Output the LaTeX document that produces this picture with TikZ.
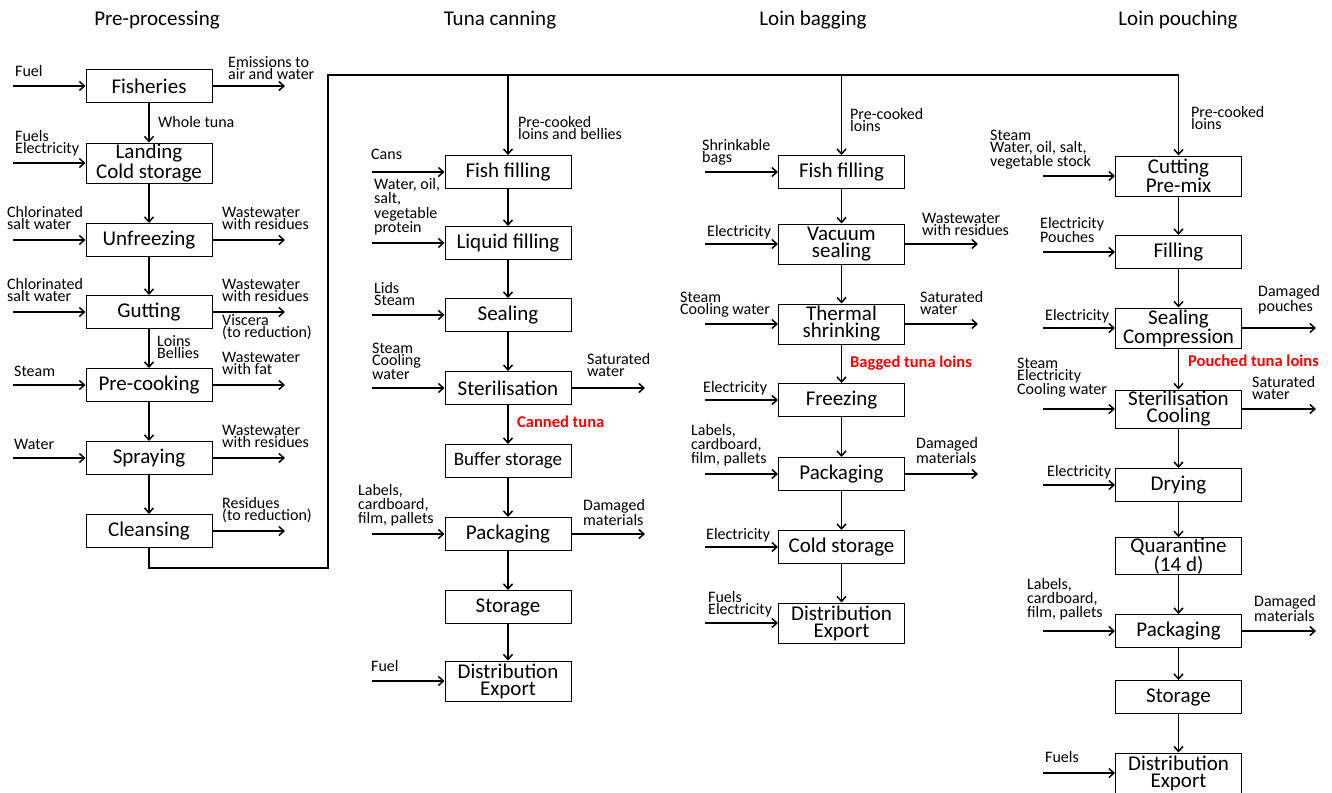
\documentclass[tikz,border=0pt]{standalone}
\usepackage{fontspec}
\setmainfont{Carlito}
\usetikzlibrary{arrows.meta}

\tikzset{
  proc/.style={draw, line width=1pt, minimum width=126pt, minimum height=33pt,
    inner sep=0pt, align=center, font=\fontsize{21}{17}\selectfont},
  proctwo/.style={proc, minimum height=40pt},
  lbl/.style={anchor=south west, inner sep=0pt, align=left, text depth=0pt,
    font=\fontsize{16}{12}\selectfont},
  prod/.style={lbl, text=red, font=\fontsize{16.5}{12}\selectfont\bfseries},
  ttl/.style={inner sep=0pt, anchor=base, font=\fontsize{21}{20}\selectfont},
  flow/.style={line width=1.5pt, -{Straight Barb[length=5pt,width=9pt]}},
}

\begin{document}
\begin{tikzpicture}[x=1pt, y=-1pt]

    \useasboundingbox (0,0) rectangle (1332,792);

    % Column titles
    \node[ttl] (t1) at (157,26) {Pre-processing};
    \node[ttl] (t2) at (500,26) {Tuna canning};
    \node[ttl] (t3) at (813,26) {Loin bagging};
    \node[ttl] (t4) at (1178,26) {Loin pouching};

    % Pre-processing
    \node[proc] (fisheries) at (149,86) {Fisheries};
    \node[proctwo] (landing) at (149,163) {Landing\\Cold storage};
    \node[proc] (unfreezing) at (149,240) {Unfreezing};
    \node[proc] (gutting) at (149,312) {Gutting};
    \node[proc] (precooking) at (149,385) {Pre-cooking};
    \node[proc] (spraying) at (149,458) {Spraying};
    \node[proc] (cleansing) at (149,531) {Cleansing};

    \draw[flow] (fisheries) -- (landing);
    \draw[flow] (landing) -- (unfreezing);
    \draw[flow] (unfreezing) -- (gutting);
    \draw[flow] (gutting) -- (precooking);
    \draw[flow] (precooking) -- (spraying);
    \draw[flow] (spraying) -- (cleansing);

    \node[lbl] (wholetuna) at (158,128) {Whole tuna};
    \node[lbl] (loins) at (157,359) {Loins\\Bellies};

    \coordinate (fisheries-in) at (13,86);
    \coordinate (landing-in) at (13,163);
    \coordinate (unfreezing-in) at (13,240);
    \coordinate (gutting-in) at (13,312);
    \coordinate (precooking-in) at (13,385);
    \coordinate (spraying-in) at (13,458);

    \draw[flow] (fisheries-in) -- (fisheries.west);
    \draw[flow] (landing-in) -- (landing.west);
    \draw[flow] (unfreezing-in) -- (unfreezing.west);
    \draw[flow] (gutting-in) -- (gutting.west);
    \draw[flow] (precooking-in) -- (precooking.west);
    \draw[flow] (spraying-in) -- (spraying.west);

    \node[lbl] (fisheries-inl) at (15,77) {Fuel};
    \node[lbl] (landing-inl) at (15,154) {Fuels\\Electricity};
    \node[lbl] (unfreezing-inl) at (7,230) {Chlorinated\\salt water};
    \node[lbl] (gutting-inl) at (7,302) {Chlorinated\\salt water};
    \node[lbl] (precooking-inl) at (14,377) {Steam};
    \node[lbl] (spraying-inl) at (14,450) {Water};

    \coordinate (fisheries-out) at (285,86);
    \coordinate (unfreezing-out) at (285,240);
    \coordinate (gutting-out) at (285,312);
    \coordinate (precooking-out) at (285,385);
    \coordinate (spraying-out) at (285,458);
    \coordinate (cleansing-out) at (285,531);

    \draw[flow] (fisheries.east) -- (fisheries-out);
    \draw[flow] (unfreezing.east) -- (unfreezing-out);
    \draw[flow] (gutting.east) -- (gutting-out);
    \draw[flow] (precooking.east) -- (precooking-out);
    \draw[flow] (spraying.east) -- (spraying-out);
    \draw[flow] (cleansing.east) -- (cleansing-out);

    \node[lbl] (fisheries-outl) at (228,80) {Emissions to\\air and water};
    \node[lbl] (unfreezing-outl) at (222,230) {Wastewater\\with residues};
    \node[lbl] (gutting-outl) at (222,302) {Wastewater\\with residues};
    \node[lbl] (viscera) at (222,338) {Viscera\\(to reduction)};
    \node[lbl] (precooking-outl) at (222,375) {Wastewater\\with fat};
    \node[lbl] (spraying-outl) at (222,448) {Wastewater\\with residues};
    \node[lbl] (cleansing-outl) at (222,521) {Residues\\(to reduction)};

    % Loop to the three lines
    \coordinate (loopa) at (149,568);
    \coordinate (loopb) at (328,568);
    \coordinate (loopc) at (328,75);
    \coordinate (split1) at (508,75);
    \coordinate (split2) at (841.5,75);
    \coordinate (split3) at (1178.5,75);

    \draw[line width=1.5pt] (cleansing.south) -- (loopa) -- (loopb) -- (loopc) -- (split3);

    % Tuna canning
    \node[proc] (cfill) at (508,172) {Fish filling};
    \node[proc] (cliquid) at (508,243) {Liquid filling};
    \node[proc] (cseal) at (508,315) {Sealing};
    \node[proc] (cster) at (508,388) {Sterilisation};
    \node[proc, font=\fontsize{19}{17}\selectfont] (cbuffer) at (508,461) {Buffer storage};
    \node[proc] (cpack) at (508,534) {Packaging};
    \node[proc] (cstore) at (508,607) {Storage};
    \node[proctwo] (cdist) at (508,681) {Distribution\\Export};

    \draw[flow] (split1) -- (cfill);
    \draw[flow] (cfill) -- (cliquid);
    \draw[flow] (cliquid) -- (cseal);
    \draw[flow] (cseal) -- (cster);
    \draw[flow] (cster) -- (cbuffer);
    \draw[flow] (cbuffer) -- (cpack);
    \draw[flow] (cpack) -- (cstore);
    \draw[flow] (cstore) -- (cdist);

    \node[lbl] (cfill-top) at (518,140) {Pre-cooked\\loins and bellies};
    \node[prod] (canned) at (517,428) {Canned tuna};

    \coordinate (cfill-in) at (372,172);
    \coordinate (cliquid-in) at (372,243);
    \coordinate (cseal-in) at (372,315);
    \coordinate (cster-in) at (372,388);
    \coordinate (cpack-in) at (372,534);
    \coordinate (cdist-in) at (372,681);

    \draw[flow] (cfill-in) -- (cfill.west);
    \draw[flow] (cliquid-in) -- (cliquid.west);
    \draw[flow] (cseal-in) -- (cseal.west);
    \draw[flow] (cster-in) -- (cster.west);
    \draw[flow] (cpack-in) -- (cpack.west);
    \draw[flow] (cdist-in) -- (cdist.west);

    \node[lbl] (cfill-inl) at (371,160) {Cans};
    \node[lbl] (cliquid-inl) at (374,233) {Water, oil,\\salt,\\vegetable\\protein};
    \node[lbl] (cseal-inl) at (374,306) {Lids\\Steam};
    \node[lbl] (cster-inl) at (372,380) {Steam\\Cooling\\water};
    \node[lbl] (cpack-inl) at (358,524) {Labels,\\cardboard,\\film, pallets};
    \node[lbl] (cdist-inl) at (371,672) {Fuel};

    \coordinate (cster-out) at (645,388);
    \coordinate (cpack-out) at (645,534);

    \draw[flow] (cster.east) -- (cster-out);
    \draw[flow] (cpack.east) -- (cpack-out);

    \node[lbl] (cster-outl) at (587,377) {Saturated\\water};
    \node[lbl] (cpack-outl) at (583,526) {Damaged\\materials};

    % Loin bagging
    \node[proc] (bfill) at (841.5,172) {Fish filling};
    \node[proctwo] (bvacuum) at (841.5,244) {Vacuum\\sealing};
    \node[proctwo] (bshrink) at (841.5,324) {Thermal\\shrinking};
    \node[proc] (bfreeze) at (841.5,400) {Freezing};
    \node[proc] (bpack) at (841.5,474) {Packaging};
    \node[proc] (bcold) at (841.5,547) {Cold storage};
    \node[proctwo] (bdist) at (841.5,623) {Distribution\\Export};

    \draw[flow] (split2) -- (bfill);
    \draw[flow] (bfill) -- (bvacuum);
    \draw[flow] (bvacuum) -- (bshrink);
    \draw[flow] (bshrink) -- (bfreeze);
    \draw[flow] (bfreeze) -- (bpack);
    \draw[flow] (bpack) -- (bcold);
    \draw[flow] (bcold) -- (bdist);

    \node[lbl] (bfill-top) at (850,132) {Pre-cooked\\loins};
    \node[prod] (bagged) at (850,368) {Bagged tuna loins};

    \coordinate (bfill-in) at (705,172);
    \coordinate (bvacuum-in) at (705,244);
    \coordinate (bshrink-in) at (705,324);
    \coordinate (bfreeze-in) at (705,400);
    \coordinate (bpack-in) at (705,474);
    \coordinate (bcold-in) at (705,547);
    \coordinate (bdist-in) at (705,623);

    \draw[flow] (bfill-in) -- (bfill.west);
    \draw[flow] (bvacuum-in) -- (bvacuum.west);
    \draw[flow] (bshrink-in) -- (bshrink.west);
    \draw[flow] (bfreeze-in) -- (bfreeze.west);
    \draw[flow] (bpack-in) -- (bpack.west);
    \draw[flow] (bcold-in) -- (bcold.west);
    \draw[flow] (bdist-in) -- (bdist.west);

    \node[lbl] (bfill-inl) at (702,163) {Shrinkable\\bags};
    \node[lbl] (bvacuum-inl) at (707,237) {Electricity};
    \node[lbl] (bshrink-inl) at (680,315) {Steam\\Cooling water};
    \node[lbl] (bfreeze-inl) at (703,393) {Electricity};
    \node[lbl] (bpack-inl) at (691,464) {Labels,\\cardboard,\\film, pallets};
    \node[lbl] (bcold-inl) at (706,540) {Electricity};
    \node[lbl] (bdist-inl) at (708,615) {Fuels\\Electricity};

    \coordinate (bvacuum-out) at (978,244);
    \coordinate (bshrink-out) at (978,324);
    \coordinate (bpack-out) at (978,474);

    \draw[flow] (bvacuum.east) -- (bvacuum-out);
    \draw[flow] (bshrink.east) -- (bshrink-out);
    \draw[flow] (bpack.east) -- (bpack-out);

    \node[lbl] (bvacuum-outl) at (922,236) {Wastewater\\with residues};
    \node[lbl] (bshrink-outl) at (920,315) {Saturated\\water};
    \node[lbl] (bpack-outl) at (916,464) {Damaged\\materials};

    % Loin pouching
    \node[proctwo] (pcut) at (1178.5,176) {Cutting\\Pre-mix};
    \node[proc] (pfill) at (1178.5,252) {Filling};
    \node[proctwo] (pseal) at (1178.5,328) {Sealing\\Compression};
    \node[proctwo, minimum height=38pt] (pster) at (1178.5,409) {Sterilisation\\Cooling};
    \node[proc] (pdry) at (1178.5,485) {Drying};
    \node[proc, minimum height=36pt] (pquar) at (1178.5,556) {Quarantine\\(14 d)};
    \node[proc] (ppack) at (1178.5,631) {Packaging};
    \node[proc] (pstore) at (1178.5,697) {Storage};
    \node[proctwo] (pdist) at (1178.5,773) {Distribution\\Export};

    \draw[flow] (split3) -- (pcut);
    \draw[flow] (pcut) -- (pfill);
    \draw[flow] (pfill) -- (pseal);
    \draw[flow] (pseal) -- (pster);
    \draw[flow] (pster) -- (pdry);
    \draw[flow] (pdry) -- (pquar);
    \draw[flow] (pquar) -- (ppack);
    \draw[flow] (ppack) -- (pstore);
    \draw[flow] (pstore) -- (pdist);

    \node[lbl] (pcut-top) at (1191,130) {Pre-cooked\\loins};
    \node[prod] (pouched) at (1188,367) {Pouched tuna loins};

    \coordinate (pcut-in) at (1043,176);
    \coordinate (pfill-in) at (1043,252);
    \coordinate (pseal-in) at (1043,328);
    \coordinate (pster-in) at (1043,409);
    \coordinate (pdry-in) at (1043,485);
    \coordinate (ppack-in) at (1043,631);
    \coordinate (pdist-in) at (1043,773);

    \draw[flow] (pcut-in) -- (pcut.west);
    \draw[flow] (pfill-in) -- (pfill.west);
    \draw[flow] (pseal-in) -- (pseal.west);
    \draw[flow] (pster-in) -- (pster.west);
    \draw[flow] (pdry-in) -- (pdry.west);
    \draw[flow] (ppack-in) -- (ppack.west);
    \draw[flow] (pdist-in) -- (pdist.west);

    \node[lbl] (pcut-inl) at (990,167) {Steam\\Water, oil, salt,\\vegetable stock};
    \node[lbl] (pfill-inl) at (1040,243) {Electricity\\Pouches};
    \node[lbl] (pseal-inl) at (1045,321) {Electricity};
    \node[lbl] (pster-inl) at (1017,395) {Steam\\Electricity\\Cooling water};
    \node[lbl] (pdry-inl) at (1047,477) {Electricity};
    \node[lbl] (ppack-inl) at (1027,618) {Labels,\\cardboard,\\film, pallets};
    \node[lbl] (pdist-inl) at (1045,763) {Fuels};

    \coordinate (pseal-out) at (1316,328);
    \coordinate (pster-out) at (1316,409);
    \coordinate (ppack-out) at (1316,631);

    \draw[flow] (pseal.east) -- (pseal-out);
    \draw[flow] (pster.east) -- (pster-out);
    \draw[flow] (ppack.east) -- (ppack-out);

    \node[lbl] (pseal-outl) at (1258,312) {Damaged\\pouches};
    \node[lbl] (pster-outl) at (1252,400) {Saturated\\water};
    \node[lbl] (ppack-outl) at (1254,622) {Damaged\\materials};

\end{tikzpicture}
\end{document}
